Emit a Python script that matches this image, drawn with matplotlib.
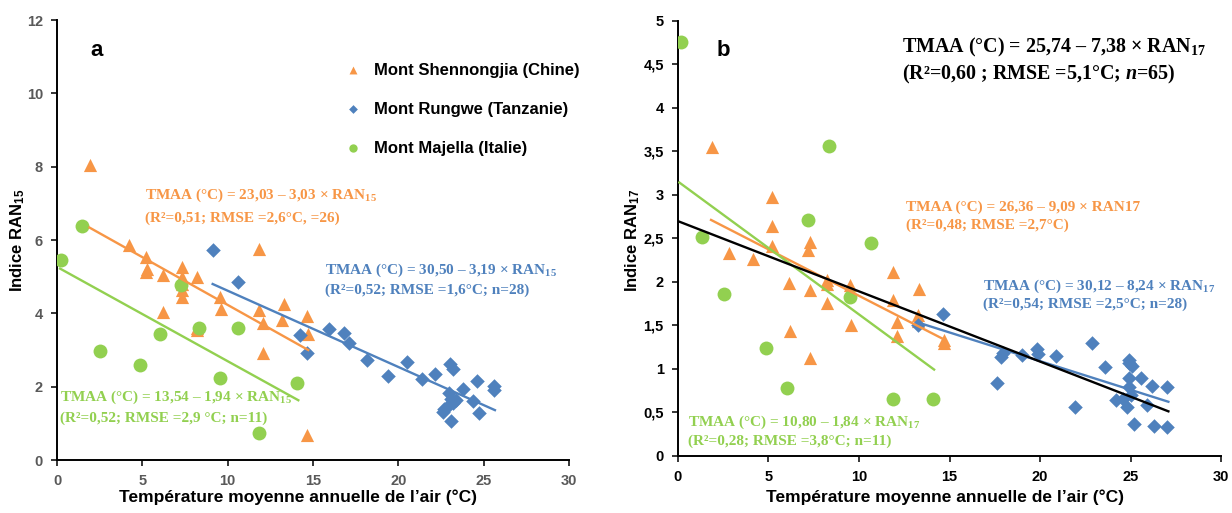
import matplotlib
matplotlib.use("Agg")
import matplotlib.pyplot as plt
from matplotlib.ticker import FuncFormatter, MultipleLocator

plt.rcParams['font.family'] = ['Liberation Sans', 'DejaVu Sans']
plt.rcParams['mathtext.fontset'] = 'custom'
plt.rcParams['mathtext.rm'] = 'Liberation Serif:bold'
plt.rcParams['mathtext.it'] = 'Liberation Serif:bold:italic'
plt.rcParams['mathtext.sf'] = 'Liberation Sans:bold'

# ---------------- data: panel a (RAN15) ----------------
a_shen_t = [1.93, 4.22, 5.19, 5.19, 5.25, 6.23, 7.3, 7.3, 7.3, 7.3, 7.3, 8.22, 6.23, 8.18,
            9.55, 9.6, 11.85, 11.85, 12.09, 13.32, 13.16, 14.67, 14.72, 12.09, 14.67, 8.2]
a_shen_r = [8.04, 5.86, 5.54, 5.13, 5.2, 5.04, 5.27, 4.99, 4.8, 4.63, 4.45, 4.99, 4.04, 3.54,
            4.45, 4.13, 5.75, 4.09, 3.75, 4.25, 3.81, 3.93, 3.45, 2.92, 0.68, 3.6]
a_rung_t = [9.12, 10.62, 14.24, 14.67, 15.95, 16.83, 17.1, 18.14, 19.37, 20.52, 21.4, 22.14,
            23.02, 23.22, 23.8, 24.62, 25.6, 25.6, 22.98, 23.06, 23.37, 24.35, 22.83, 22.63,
            24.74, 23.06, 23.2, 22.7]
a_rung_r = [5.72, 4.85, 3.41, 2.91, 3.58, 3.47, 3.2, 2.72, 2.3, 2.66, 2.2, 2.34,
            2.63, 2.47, 1.93, 2.15, 2.02, 1.91, 1.84, 1.66, 1.63, 1.62, 1.44, 1.3,
            1.27, 1.07, 1.55, 1.4]
a_maj_t = [0.23, 1.45, 7.24, 8.34, 10.62, 6.03, 2.52, 4.86, 9.55, 14.08, 11.81]
a_maj_r = [5.45, 6.38, 4.77, 3.6, 3.6, 3.45, 2.97, 2.59, 2.24, 2.1, 0.73]
# trend lines (end points)
a_shen_fit_t, a_shen_fit_r = [1.9, 14.72], [6.34, 3.0]
a_rung_fit_t, a_rung_fit_r = [9.12, 25.66], [4.8, 1.36]
a_maj_fit_t, a_maj_fit_r = [0.18, 14.14], [5.22, 1.63]

# ---------------- data: panel b (RAN17) ----------------
b_shen_t = [1.89, 5.2, 5.2, 5.2, 2.85, 4.17, 7.3, 7.17, 6.16, 7.3, 8.22, 9.51, 8.22, 9.56,
            6.2, 7.3, 11.9, 11.9, 12.08, 12.08, 13.32, 13.28, 13.28, 14.7, 14.7, 8.24]
b_shen_r = [3.55, 2.97, 2.64, 2.41, 2.33, 2.26, 2.46, 2.36, 1.99, 1.9, 2.02, 1.96, 1.75, 1.5,
            1.43, 1.12, 2.11, 1.79, 1.54, 1.38, 1.92, 1.62, 1.55, 1.33, 1.30, 1.97]
b_rung_t = [14.62, 13.28, 17.83, 17.97, 19.02, 19.85, 19.9, 20.86, 17.64, 22.88, 23.58, 21.93,
            24.92, 25.05, 24.92, 25.55, 24.92, 26.18, 27.02, 24.19, 24.59, 24.78, 25.92, 25.18,
            26.29, 27.02, 24.92, 25.0]
b_rung_r = [1.63, 1.5, 1.14, 1.18, 1.16, 1.23, 1.17, 1.15, 0.83, 1.29, 1.02, 0.56,
            1.1, 1.03, 0.89, 0.89, 0.79, 0.8, 0.79, 0.64, 0.65, 0.56, 0.58, 0.36,
            0.345, 0.335, 1.06, 0.7]
b_maj_t = [0.18, 1.36, 2.56, 8.35, 7.21, 10.67, 9.51, 4.86, 6.02, 11.9, 14.1]
b_maj_r = [4.75, 2.51, 1.855, 3.56, 2.71, 2.45, 1.82, 1.24, 0.775, 0.65, 0.65]
b_all_fit_t, b_all_fit_r = [0.09, 27.08], [2.69, 0.51]
b_shen_fit_t, b_shen_fit_r = [1.84, 14.57], [2.71, 1.35]
b_maj_fit_t, b_maj_fit_r = [0.09, 14.15], [3.14, 0.99]
b_rung_fit_t, b_rung_fit_r = [13.28, 27.08], [1.53, 0.62]

labels = ["Mont Shennongjia (Chine)", "Mont Rungwe (Tanzanie)", "Mont Majella (Italie)"]
ORANGE, BLUE, GREEN = '#F79646', '#4F81BD', '#92D050'

W, H = 1232, 513
fig = plt.figure(figsize=(W / 100, H / 100), dpi=100)
fx = lambda px: px / W
fy = lambda py: 1 - py / H

axL = fig.add_axes([fx(57), fy(460), 512 / W, 440 / H])
axR = fig.add_axes([fx(677.7), fy(455.7), 543.6 / W, 435 / H])

def style(ax, ymax, ystep, tickcolor):
    for s in ['top', 'right']:
        ax.spines[s].set_visible(False)
    for s in ['left', 'bottom']:
        ax.spines[s].set_linewidth(1.4)
        ax.spines[s].set_color('black')
    ax.set_xlim(0, 30)
    ax.set_ylim(0, ymax)
    ax.xaxis.set_major_locator(MultipleLocator(5))
    ax.yaxis.set_major_locator(MultipleLocator(ystep))
    ax.tick_params(direction='out', length=4, width=1.1, colors='black',
                   labelcolor=tickcolor, labelsize=10.5, pad=6)
    for lab in ax.get_xticklabels() + ax.get_yticklabels():
        lab.set_fontweight('bold')
    ax.yaxis.set_major_formatter(FuncFormatter(lambda v, p: ('%g' % v).replace('.', ',')))

style(axL, 12, 2, '#595959')
style(axR, 5, 0.5, 'black')

ms_tri, ms_dia, ms_cir = 90, 55, 100
lw = 1.7
axL.scatter(a_shen_t, a_shen_r, marker='^', s=ms_tri, color=ORANGE, lw=0, zorder=3, label=labels[0])
axL.scatter(a_rung_t, a_rung_r, marker='D', s=ms_dia, color=BLUE, lw=0, zorder=3, label=labels[1])
axL.scatter(a_maj_t, a_maj_r, marker='o', s=ms_cir, color=GREEN, lw=0, zorder=4, label=labels[2])
axL.plot(a_shen_fit_t, a_shen_fit_r, color=ORANGE, lw=lw, zorder=5)
axL.plot(a_rung_fit_t, a_rung_fit_r, color=BLUE, lw=lw, zorder=5)
axL.plot(a_maj_fit_t, a_maj_fit_r, color=GREEN, lw=lw, zorder=5)

axR.scatter(b_shen_t, b_shen_r, marker='^', s=ms_tri, color=ORANGE, lw=0, zorder=3)
axR.scatter(b_rung_t, b_rung_r, marker='D', s=ms_dia, color=BLUE, lw=0, zorder=3)
axR.scatter(b_maj_t, b_maj_r, marker='o', s=ms_cir, color=GREEN, lw=0, zorder=4)
axR.plot(b_shen_fit_t, b_shen_fit_r, color=ORANGE, lw=lw, zorder=5)
axR.plot(b_maj_fit_t, b_maj_fit_r, color=GREEN, lw=lw, zorder=5)
axR.plot(b_rung_fit_t, b_rung_fit_r, color=BLUE, lw=lw, zorder=5)
axR.plot(b_all_fit_t, b_all_fit_r, color='black', lw=lw, zorder=6)

leg = axL.legend(loc='upper left', bbox_to_anchor=(fx(328), fy(47.5)), bbox_transform=fig.transFigure,
                 frameon=False, markerscale=0.6, handletextpad=0.66, labelspacing=1.45,
                 handlelength=1.2, prop={'weight': 'bold', 'size': 12})

# axis labels
xlab = "Température moyenne annuelle de l’air (°C)"
fig.text(fx(298), fy(497), xlab, ha='center', va='center', fontsize=12.5, fontweight='bold')
fig.text(fx(945), fy(497), xlab, ha='center', va='center', fontsize=12.5, fontweight='bold')
fig.text(fx(18), fy(240), r"Indice RAN$_{\mathsf{15}}$", rotation=90, ha='center', va='center',
         fontsize=12, fontweight='bold')
fig.text(fx(633), fy(240), r"Indice RAN$_{\mathsf{17}}$", rotation=90, ha='center', va='center',
         fontsize=12, fontweight='bold')

# panel letters
fig.text(fx(97), fy(50), "a", ha='center', va='center', fontsize=16, fontweight='bold')
fig.text(fx(723), fy(50), "b", ha='center', va='center', fontsize=16, fontweight='bold')

def eq(px, py, s, color, size=11):
    fig.text(fx(px), fy(py), s, ha='left', va='center', fontsize=size, color=color,
             family='Liberation Serif', fontweight='bold')

# panel a equations
eq(145, 195, r"TMAA (°C) = 23,03 – 3,03 × RAN$_{\mathrm{15}}$", ORANGE)
eq(145, 218, "(R²=0,51; RMSE =2,6°C, =26)", ORANGE)
eq(325, 270, r"TMAA (°C) = 30,50 – 3,19 × RAN$_{\mathrm{15}}$", BLUE)
eq(325, 290, "(R²=0,52; RMSE =1,6°C; n=28)", BLUE)
eq(60, 397, r"TMAA (°C) = 13,54 – 1,94 × RAN$_{\mathrm{15}}$", GREEN)
eq(60, 418, "(R²=0,52; RMSE =2,9 °C; n=11)", GREEN)

# panel b equations
eq(902, 47, r"TMAA (°C) = 25,74 – 7,38 × RAN$_{\mathrm{17}}$", 'black', 14.4)
eq(902, 74, r"(R²=0,60 ; RMSE =5,1°C; $\mathit{n}$=65)", 'black', 14.4)
eq(906, 207, "TMAA (°C) = 26,36 – 9,09 × RAN17", ORANGE)
eq(906, 225, "(R²=0,48; RMSE =2,7°C)", ORANGE)
eq(983, 286, r"TMAA (°C) = 30,12 – 8,24 × RAN$_{\mathrm{17}}$", BLUE)
eq(983, 304, "(R²=0,54; RMSE =2,5°C; n=28)", BLUE)
eq(688, 422, r"TMAA (°C) = 10,80 – 1,84 × RAN$_{\mathrm{17}}$", GREEN)
eq(688, 441, "(R²=0,28; RMSE =3,8°C; n=11)", GREEN)

fig.savefig("out.png", dpi=100)
